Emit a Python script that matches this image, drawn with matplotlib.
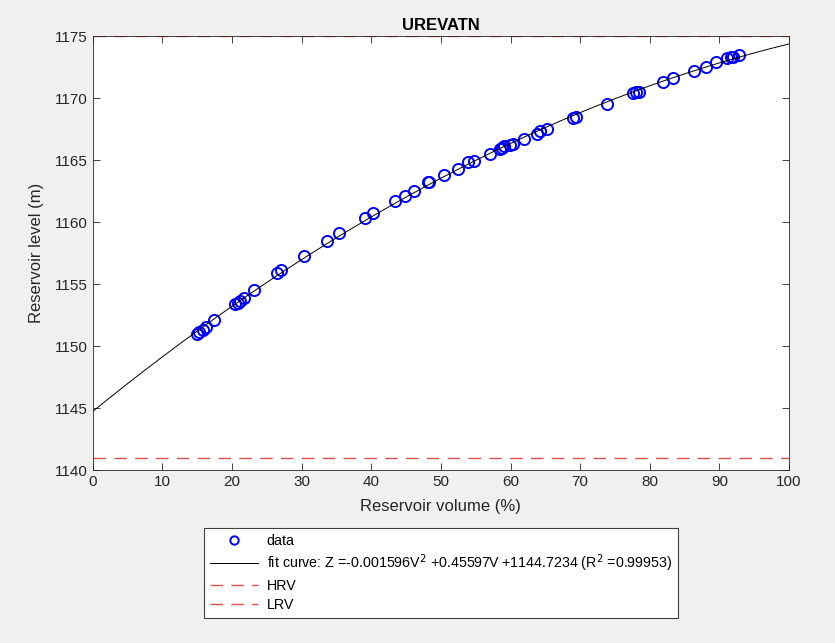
"""UREVATN reservoir: level vs volume with quadratic fit, HRV/LRV lines (MATLAB-style look)."""
import numpy as np
import matplotlib
matplotlib.use("Agg")
import matplotlib.pyplot as plt

plt.rcParams["font.family"] = ["Liberation Sans", "DejaVu Sans"]

vol = [15.0, 15.3, 15.8, 16.2, 17.4, 20.5, 20.8, 21.2, 21.7, 23.1,
       26.5, 27.0, 30.3, 33.6, 35.3, 39.1, 40.3, 43.4, 44.8, 46.1,
       48.2, 48.3, 50.5, 52.5, 53.9, 54.7, 57.1, 58.5, 58.8, 59.1,
       59.9, 60.3, 62.0, 63.8, 64.3, 65.2, 69.0, 69.4, 73.8, 77.6,
       78.0, 78.5, 81.9, 83.3, 86.3, 88.1, 89.5, 91.1, 91.7, 92.0, 92.8]
level = [1151.0, 1151.1, 1151.3, 1151.5, 1152.1, 1153.4, 1153.5, 1153.6, 1153.9, 1154.5,
         1155.9, 1156.1, 1157.3, 1158.5, 1159.1, 1160.3, 1160.7, 1161.7, 1162.1, 1162.5,
         1163.2, 1163.2, 1163.8, 1164.3, 1164.8, 1164.9, 1165.5, 1165.9, 1166.0, 1166.1,
         1166.2, 1166.3, 1166.7, 1167.1, 1167.3, 1167.5, 1168.4, 1168.5, 1169.5, 1170.4,
         1170.5, 1170.5, 1171.3, 1171.6, 1172.2, 1172.5, 1172.9, 1173.2, 1173.3, 1173.3, 1173.5]

fit_coef = [-0.001596, 0.45597, 1144.7234]   # from the legend text
r2 = 0.99953
hrv = 1175.0
lrv = 1141.0

BG = "#f0f0f0"
AX = "#262626"
RED = "#e05050"

fig = plt.figure(figsize=(8.35, 6.43), dpi=100, facecolor=BG)
ax = fig.add_axes([0.111, 0.269, 0.834, 0.675])

vv = np.linspace(0, 100, 201)
h_data, = ax.plot(vol, level, "o", mfc="none", mec="#0000ff", mew=1.4, ms=8, ls="none", label="data")
h_fit, = ax.plot(vv, np.polyval(fit_coef, vv), "-", c="k", lw=0.7,
                 label=f"fit curve: Z =-0.001596V$^2$ +0.45597V +1144.7234 (R$^2$ ={r2})")
h_hrv = ax.axhline(hrv, c=RED, lw=1.0, ls=(0, (9, 6)), label="HRV")
h_lrv = ax.axhline(lrv, c=RED, lw=1.0, ls=(0, (9, 6)), label="LRV")

ax.set_xlim(0, 100)
ax.set_ylim(1140, 1175)
ax.set_xticks(np.arange(0, 101, 10))
ax.set_yticks(np.arange(1140, 1176, 5))
ax.tick_params(direction="in", length=5, width=0.6, colors=AX, labelsize=11, top=True, right=True,
               labeltop=False, labelright=False)
for sp in ax.spines.values():
    sp.set_color(AX)
    sp.set_linewidth(0.6)
ax.set_xlabel("Reservoir volume (%)", fontsize=12, color=AX, labelpad=7)
ax.set_ylabel("Reservoir level (m)", fontsize=12, color=AX, labelpad=8)
ax.set_title("UREVATN", fontsize=12, fontweight="bold", color="k", pad=4)

leg = fig.legend(handles=[h_data, h_fit, h_hrv, h_lrv], loc="center",
                 bbox_to_anchor=(0.528, 0.109), fontsize=10.3, frameon=True, fancybox=False,
                 handlelength=3.4, borderpad=0.4, labelspacing=0.33, handletextpad=0.6,
                 markerscale=0.75)
leg.get_frame().set_edgecolor("#404040")
leg.get_frame().set_linewidth(0.8)
leg.get_frame().set_alpha(1)

fig.savefig("out.png", dpi=100, facecolor=BG)
